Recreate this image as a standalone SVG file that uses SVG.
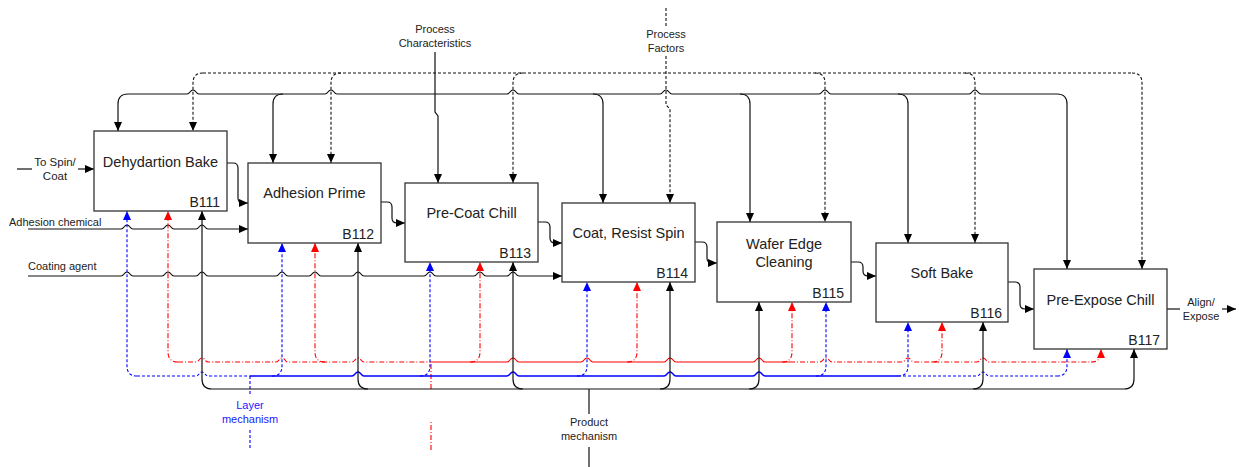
<svg xmlns="http://www.w3.org/2000/svg" width="1239" height="467" viewBox="0 0 1239 467">
<defs>
<style>
.box{fill:#fff;stroke:#333;stroke-width:1.3}
.t{font-family:"Liberation Sans",Arial,sans-serif;font-size:14.5px;fill:#222;text-anchor:middle}
.id{font-family:"Liberation Sans",Arial,sans-serif;font-size:14px;fill:#222;text-anchor:end}
.lb{font-family:"Liberation Sans",Arial,sans-serif;font-size:11px;fill:#222;text-anchor:middle}
.lbs{font-family:"Liberation Sans",Arial,sans-serif;font-size:11px;fill:#222;text-anchor:start}
.s{fill:none;stroke:#111;stroke-width:1.2}
.d{fill:none;stroke:#111;stroke-width:1.1;stroke-dasharray:3 2}
.r{fill:none;stroke:#f00;stroke-width:1.1;stroke-dasharray:5 2 1 2}
.rs{fill:none;stroke:#f00;stroke-width:1.2}
.b{fill:none;stroke:#00f;stroke-width:1.1;stroke-dasharray:3 2}
.bs{fill:none;stroke:#00f;stroke-width:1.3}
</style>
<marker id="ak" viewBox="0 0 9 8" refX="9" refY="4" markerWidth="9" markerHeight="8" markerUnits="userSpaceOnUse" orient="auto"><path d="M0,0 L9,4 L0,8 z" fill="#000"/></marker>
<marker id="ar" viewBox="0 0 9 8" refX="9" refY="4" markerWidth="9" markerHeight="8" markerUnits="userSpaceOnUse" orient="auto"><path d="M0,0 L9,4 L0,8 z" fill="#f00"/></marker>
<marker id="ab" viewBox="0 0 9 8" refX="9" refY="4" markerWidth="9" markerHeight="8" markerUnits="userSpaceOnUse" orient="auto"><path d="M0,0 L9,4 L0,8 z" fill="#00f"/></marker>
</defs>
<rect width="1239" height="467" fill="#fff"/>

<g id="connectors">
<!-- top solid bus -->
<path class="s" d="M128,94 L187,94 C190,94 190,90 193,90 C196,90 196,94 199,94 L325,94 C328,94 328,90 331,90 C334,90 334,94 337,94 L507,94 C510,94 510,90 513,90 C516,90 516,94 519,94 L660,94 C663,94 663,90 666,90 C669,90 669,94 672,94 L819,94 C822,94 822,90 825,90 C828,90 828,94 831,94 L969,94 C972,94 972,90 975,90 C978,90 978,94 981,94 L1057,94"/>
<path class="s" marker-end="url(#ak)" d="M128,94 Q118,94 118,104 L118,131"/>
<path class="s" marker-end="url(#ak)" d="M283,94 Q273,94 273,104 L273,163"/>
<path class="s" marker-end="url(#ak)" d="M435,52 L435,112 L438,116 L438,183"/>
<path class="s" marker-end="url(#ak)" d="M593,94 Q603,94 603,104 L603,203"/>
<path class="s" marker-end="url(#ak)" d="M740,94 Q750,94 750,104 L750,222"/>
<path class="s" marker-end="url(#ak)" d="M898,94 Q908,94 908,104 L908,243"/>
<path class="s" marker-end="url(#ak)" d="M1057,94 Q1067,94 1067,104 L1067,269"/>
<!-- top dashed bus -->
<path class="d" d="M203,73 L1132,73"/>
<path class="d" marker-end="url(#ak)" d="M203,73 Q193,73 193,83 L193,131"/>
<path class="d" marker-end="url(#ak)" d="M341,73 Q331,73 331,83 L331,163"/>
<path class="d" marker-end="url(#ak)" d="M523,73 Q513,73 513,83 L513,183"/>
<path class="d" d="M666,8 L666,27"/>
<path class="d" marker-end="url(#ak)" d="M666,56 L666,105 L670,109 L670,203"/>
<path class="d" marker-end="url(#ak)" d="M815,73 Q825,73 825,83 L825,222"/>
<path class="d" marker-end="url(#ak)" d="M965,73 Q975,73 975,83 L975,243"/>
<path class="d" marker-end="url(#ak)" d="M1132,73 Q1142,73 1142,83 L1142,269"/>

<!-- inputs -->
<path class="s" d="M17,169 L32,169"/>
<path class="s" marker-end="url(#ak)" d="M78,169 L94,169"/>
<path class="s" marker-end="url(#ak)" d="M28,229 L121,229 C124,229 124,225 127,225 C130,225 130,229 133,229 L162,229 C165,229 165,225 168,225 C171,225 171,229 174,229 L196,229 C199,229 199,225 202,225 C205,225 205,229 208,229 L248,229"/>
<path class="s" marker-end="url(#ak)" d="M28,276 L121,276 C124,276 124,272 127,272 C130,272 130,276 133,276 L162,276 C165,276 165,272 168,272 C171,272 171,276 174,276 L196,276 C199,276 199,272 202,272 C205,272 205,276 208,276 L276,276 C279,276 279,272 282,272 C285,272 285,276 288,276 L309,276 C312,276 312,272 315,272 C318,272 318,276 321,276 L352,276 C355,276 355,272 358,272 C361,272 361,276 364,276 L424,276 C427,276 427,272 430,272 C433,272 433,276 436,276 L474,276 C477,276 477,272 480,272 C483,272 483,276 486,276 L507,276 C510,276 510,272 513,272 C516,272 516,276 519,276 L562,276"/>

<!-- flow between boxes -->
<path class="s" marker-end="url(#ak)" d="M227,163 L233,163 Q238,163 238,168 L238,198 Q238,203 243,203 L248,203"/>
<path class="s" marker-end="url(#ak)" d="M381,202 L387,202 Q392,202 392,207 L392,218 Q392,223 397,223 L405,223"/>
<path class="s" marker-end="url(#ak)" d="M538,222 L545,222 Q550,222 550,227 L550,238 Q550,243 555,243 L562,243"/>
<path class="s" marker-end="url(#ak)" d="M695,242 L702,242 Q707,242 707,247 L707,258 Q707,263 712,263 L717,263"/>
<path class="s" marker-end="url(#ak)" d="M851,262 L858,262 Q863,262 863,267 L863,271 Q863,276 868,276 L876,276"/>
<path class="s" marker-end="url(#ak)" d="M1008,282 L1015,282 Q1020,282 1020,287 L1020,304 Q1020,309 1025,309 L1034,309"/>
<path class="s" d="M1167,309 L1180,309"/>
<path class="s" marker-end="url(#ak)" d="M1222,309 L1236,309"/>

<!-- red mechanism -->
<path class="r" d="M178,362 L196,362 C199,362 199,358 202,358 C205,358 205,362 208,362 L276,362 C279,362 279,358 282,358 C285,358 285,362 288,362 L352,362 C355,362 355,358 358,358 C361,358 361,362 364,362 L431,362"/>
<path class="rs" d="M431,362 L507,362 C510,362 510,358 513,358 C516,358 516,362 519,362 L581,362 C584,362 584,358 587,358 C590,358 590,362 593,362 L664,362 C667,362 667,358 670,358 C673,358 673,362 676,362 L753,362 C756,362 756,358 759,358 C762,358 762,362 765,362 L790,362"/>
<path class="r" d="M790,362 L820,362 C823,362 823,358 826,358 C829,358 829,362 832,362 L902,362 C905,362 905,358 908,358 C911,358 911,362 914,362 L977,362 C980,362 980,358 983,358 C986,358 986,362 989,362 L1091,362"/>
<path class="r" d="M431,389 L431,362"/>
<path class="r" d="M431,450 L431,422"/>
<path class="r" marker-end="url(#ar)" d="M178,362 Q168,362 168,352 L168,211"/>
<path class="r" marker-end="url(#ar)" d="M325,362 Q315,362 315,352 L315,243"/>
<path class="r" marker-end="url(#ar)" d="M470,362 Q480,362 480,352 L480,262"/>
<path class="r" marker-end="url(#ar)" d="M627,362 Q637,362 637,352 L637,282"/>
<path class="r" marker-end="url(#ar)" d="M782,362 Q792,362 792,352 L792,302"/>
<path class="r" marker-end="url(#ar)" d="M932,362 Q942,362 942,352 L942,322"/>
<path class="r" marker-end="url(#ar)" d="M1091,362 Q1101,362 1101,352 L1101,349"/>

<!-- blue mechanism -->
<path class="b" d="M137,376 L196,376 C199,376 199,372 202,372 C205,372 205,376 208,376 L250,376"/>
<path class="bs" d="M250,376 L352,376 C355,376 355,372 358,372 C361,372 361,376 364,376 L507,376 C510,376 510,372 513,372 C516,372 516,376 519,376 L664,376 C667,376 667,372 670,372 C673,372 673,376 676,376 L753,376 C756,376 756,372 759,372 C762,372 762,376 765,376 L898,376"/>
<path class="b" d="M898,376 L977,376 C980,376 980,372 983,372 C986,372 986,376 989,376 L1057,376"/>
<path class="b" d="M250,376 L250,395"/>
<path class="b" d="M250,430 L250,450"/>
<path class="b" marker-end="url(#ab)" d="M137,376 Q127,376 127,366 L127,211"/>
<path class="b" marker-end="url(#ab)" d="M272,376 Q282,376 282,366 L282,243"/>
<path class="b" marker-end="url(#ab)" d="M420,376 Q430,376 430,366 L430,262"/>
<path class="b" marker-end="url(#ab)" d="M577,376 Q587,376 587,366 L587,282"/>
<path class="b" marker-end="url(#ab)" d="M816,376 Q826,376 826,366 L826,302"/>
<path class="b" marker-end="url(#ab)" d="M898,376 Q908,376 908,366 L908,322"/>
<path class="b" marker-end="url(#ab)" d="M1057,376 Q1067,376 1067,366 L1067,349"/>

<!-- black product mechanism -->
<path class="s" d="M212,389 L1124,389"/>
<path class="s" d="M589,389 L589,414"/>
<path class="s" d="M589,447 L589,467"/>
<path class="s" marker-end="url(#ak)" d="M212,389 Q202,389 202,379 L202,211"/>
<path class="s" marker-end="url(#ak)" d="M368,389 Q358,389 358,379 L358,243"/>
<path class="s" marker-end="url(#ak)" d="M523,389 Q513,389 513,379 L513,262"/>
<path class="s" marker-end="url(#ak)" d="M660,389 Q670,389 670,379 L670,282"/>
<path class="s" marker-end="url(#ak)" d="M749,389 Q759,389 759,379 L759,302"/>
<path class="s" marker-end="url(#ak)" d="M973,389 Q983,389 983,379 L983,322"/>
<path class="s" marker-end="url(#ak)" d="M1124,389 Q1134,389 1134,379 L1134,349"/>
</g>

<g id="labels">
<text class="lb" x="435" y="33">Process</text>
<text class="lb" x="435" y="47">Characteristics</text>
<text class="lb" x="666" y="38">Process</text>
<text class="lb" x="666" y="52">Factors</text>
<text class="lb" x="55" y="166" style="font-size:11.5px">To Spin/</text>
<text class="lb" x="55" y="180" style="font-size:11.5px">Coat</text>
<text class="lbs" x="9" y="226">Adhesion chemical</text>
<text class="lbs" x="28" y="270">Coating agent</text>
<text class="lb" x="250" y="409" style="fill:#2020ff">Layer</text>
<text class="lb" x="250" y="423" style="fill:#2020ff">mechanism</text>
<text class="lb" x="589" y="426">Product</text>
<text class="lb" x="589" y="440">mechanism</text>
<text class="lb" x="1201" y="306">Align/</text>
<text class="lb" x="1201" y="320">Expose</text>
</g>

<g id="B111"><rect class="box" x="94" y="131" width="133" height="80"/><text class="t" x="160.5" y="167">Dehydartion Bake</text><text class="id" x="220" y="207">B111</text></g>
<g id="B112"><rect class="box" x="248" y="163" width="133" height="80"/><text class="t" x="314.5" y="198">Adhesion Prime</text><text class="id" x="374" y="239">B112</text></g>
<g id="B113"><rect class="box" x="405" y="183" width="133" height="79"/><text class="t" x="471.5" y="218">Pre-Coat Chill</text><text class="id" x="531" y="258">B113</text></g>
<g id="B114"><rect class="box" x="562" y="203" width="133" height="79"/><text class="t" x="628.5" y="238">Coat, Resist Spin</text><text class="id" x="688" y="278">B114</text></g>
<g id="B115"><rect class="box" x="717" y="222" width="134" height="80"/><text class="t" x="784" y="249">Wafer Edge</text><text class="t" x="784" y="267">Cleaning</text><text class="id" x="844" y="298">B115</text></g>
<g id="B116"><rect class="box" x="876" y="243" width="132" height="79"/><text class="t" x="942" y="278">Soft Bake</text><text class="id" x="1002" y="318">B116</text></g>
<g id="B117"><rect class="box" x="1034" y="269" width="133" height="80"/><text class="t" x="1100.5" y="305">Pre-Expose Chill</text><text class="id" x="1160" y="345">B117</text></g>
</svg>
